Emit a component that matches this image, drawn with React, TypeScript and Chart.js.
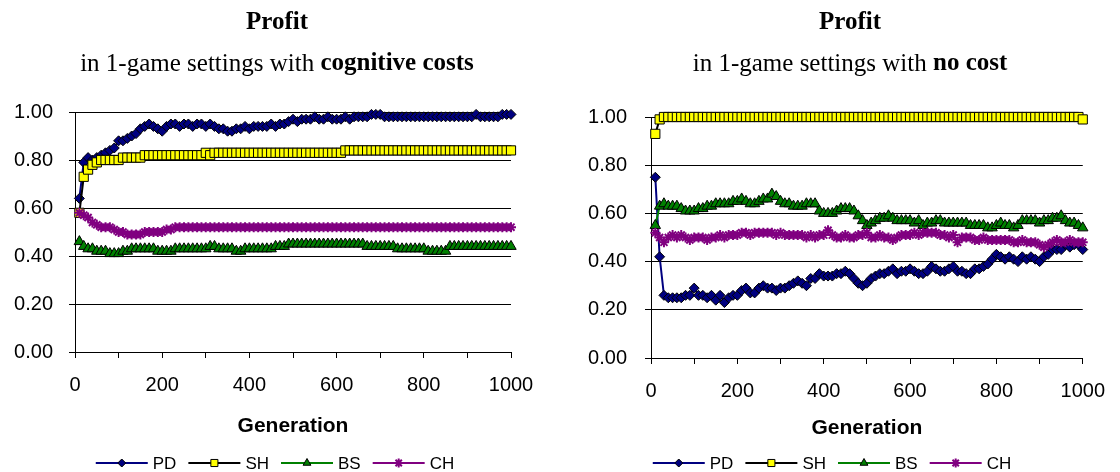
import React, { useEffect, useRef } from "react";
import { Chart, registerables } from "chart.js";
import { drawPoint } from "chart.js/helpers";

Chart.register(...registerables);

// ---------- data ----------
const generations: number[] = Array.from({ length: 100 }, (_, i) => (i + 1) * 10);
const seriesNames = ["PD", "SH", "BS", "CH"];
const xTickValues = [0, 100, 200, 300, 400, 500, 600, 700, 800, 900, 1000];
const xTickLabels = [0, 200, 400, 600, 800, 1000];

// 1-game settings with cognitive costs
const costPD = [
  0.64, 0.79, 0.81, 0.80, 0.81, 0.82, 0.83, 0.84, 0.85, 0.88,
  0.88, 0.89, 0.90, 0.91, 0.93, 0.94, 0.95, 0.94, 0.93, 0.92,
  0.94, 0.95, 0.95, 0.94, 0.95, 0.95, 0.94, 0.95, 0.95, 0.94,
  0.95, 0.94, 0.93, 0.93, 0.92, 0.92, 0.93, 0.93, 0.94, 0.93,
  0.94, 0.94, 0.94, 0.94, 0.95, 0.94, 0.95, 0.95, 0.96, 0.97,
  0.96, 0.97, 0.97, 0.97, 0.98, 0.97, 0.97, 0.98, 0.97, 0.97,
  0.97, 0.98, 0.97, 0.98, 0.98, 0.98, 0.98, 0.99, 0.99, 0.99,
  0.98, 0.98, 0.98, 0.98, 0.98, 0.98, 0.98, 0.98, 0.98, 0.98,
  0.98, 0.98, 0.98, 0.98, 0.98, 0.98, 0.98, 0.98, 0.98, 0.98,
  0.98, 0.99, 0.98, 0.98, 0.98, 0.98, 0.98, 0.99, 0.99, 0.99,
];
const costSH = [
  0.58, 0.73, 0.76, 0.78, 0.79, 0.80, 0.80, 0.80, 0.80, 0.80,
  0.81, 0.81, 0.81, 0.81, 0.81, 0.82, 0.82, 0.82, 0.82, 0.82,
  0.82, 0.82, 0.82, 0.82, 0.82, 0.82, 0.82, 0.82, 0.82, 0.83,
  0.82, 0.83, 0.83, 0.83, 0.83, 0.83, 0.83, 0.83, 0.83, 0.83,
  0.83, 0.83, 0.83, 0.83, 0.83, 0.83, 0.83, 0.83, 0.83, 0.83,
  0.83, 0.83, 0.83, 0.83, 0.83, 0.83, 0.83, 0.83, 0.83, 0.83,
  0.83, 0.84, 0.84, 0.84, 0.84, 0.84, 0.84, 0.84, 0.84, 0.84,
  0.84, 0.84, 0.84, 0.84, 0.84, 0.84, 0.84, 0.84, 0.84, 0.84,
  0.84, 0.84, 0.84, 0.84, 0.84, 0.84, 0.84, 0.84, 0.84, 0.84,
  0.84, 0.84, 0.84, 0.84, 0.84, 0.84, 0.84, 0.84, 0.84, 0.84,
];
const costBS = [
  0.46, 0.44, 0.43, 0.43, 0.42, 0.42, 0.42, 0.41, 0.41, 0.41,
  0.42, 0.42, 0.43, 0.43, 0.43, 0.43, 0.43, 0.43, 0.42, 0.42,
  0.42, 0.42, 0.43, 0.43, 0.43, 0.43, 0.43, 0.43, 0.43, 0.43,
  0.44, 0.44, 0.43, 0.43, 0.43, 0.43, 0.42, 0.42, 0.43, 0.43,
  0.43, 0.43, 0.43, 0.43, 0.43, 0.44, 0.44, 0.44, 0.45, 0.45,
  0.45, 0.45, 0.45, 0.45, 0.45, 0.45, 0.45, 0.45, 0.45, 0.45,
  0.45, 0.45, 0.45, 0.45, 0.45, 0.45, 0.44, 0.44, 0.44, 0.44,
  0.44, 0.44, 0.44, 0.43, 0.43, 0.43, 0.43, 0.43, 0.43, 0.43,
  0.42, 0.42, 0.42, 0.42, 0.42, 0.44, 0.44, 0.44, 0.44, 0.44,
  0.44, 0.44, 0.44, 0.44, 0.44, 0.44, 0.44, 0.44, 0.44, 0.44,
];
const costCH = [
  0.58, 0.57, 0.56, 0.54, 0.53, 0.52, 0.52, 0.52, 0.51, 0.50,
  0.50, 0.49, 0.49, 0.49, 0.49, 0.50, 0.50, 0.50, 0.50, 0.50,
  0.51, 0.51, 0.52, 0.52, 0.52, 0.52, 0.52, 0.52, 0.52, 0.52,
  0.52, 0.52, 0.52, 0.52, 0.52, 0.52, 0.52, 0.52, 0.52, 0.52,
  0.52, 0.52, 0.52, 0.52, 0.52, 0.52, 0.52, 0.52, 0.52, 0.52,
  0.52, 0.52, 0.52, 0.52, 0.52, 0.52, 0.52, 0.52, 0.52, 0.52,
  0.52, 0.52, 0.52, 0.52, 0.52, 0.52, 0.52, 0.52, 0.52, 0.52,
  0.52, 0.52, 0.52, 0.52, 0.52, 0.52, 0.52, 0.52, 0.52, 0.52,
  0.52, 0.52, 0.52, 0.52, 0.52, 0.52, 0.52, 0.52, 0.52, 0.52,
  0.52, 0.52, 0.52, 0.52, 0.52, 0.52, 0.52, 0.52, 0.52, 0.52,
];

// 1-game settings with no cost
const freePD = [
  0.75, 0.42, 0.26, 0.25, 0.25, 0.25, 0.25, 0.26, 0.26, 0.29,
  0.26, 0.26, 0.25, 0.26, 0.24, 0.26, 0.23, 0.25, 0.26, 0.26,
  0.28, 0.29, 0.27, 0.27, 0.29, 0.30, 0.29, 0.29, 0.28, 0.29,
  0.29, 0.30, 0.31, 0.32, 0.31, 0.30, 0.33, 0.33, 0.35, 0.34,
  0.34, 0.34, 0.35, 0.35, 0.36, 0.35, 0.33, 0.31, 0.30, 0.31,
  0.33, 0.34, 0.35, 0.35, 0.36, 0.37, 0.35, 0.36, 0.36, 0.37,
  0.36, 0.35, 0.35, 0.36, 0.38, 0.37, 0.36, 0.36, 0.37, 0.38,
  0.36, 0.36, 0.35, 0.35, 0.37, 0.37, 0.38, 0.39, 0.41, 0.43,
  0.42, 0.41, 0.42, 0.41, 0.40, 0.42, 0.41, 0.42, 0.41, 0.40,
  0.42, 0.43, 0.45, 0.45, 0.45, 0.47, 0.46, 0.47, 0.47, 0.45,
];
const freeSH = [
  0.93, 0.99, 1.00, 1.00, 1.00, 1.00, 1.00, 1.00, 1.00, 1.00,
  1.00, 1.00, 1.00, 1.00, 1.00, 1.00, 1.00, 1.00, 1.00, 1.00,
  1.00, 1.00, 1.00, 1.00, 1.00, 1.00, 1.00, 1.00, 1.00, 1.00,
  1.00, 1.00, 1.00, 1.00, 1.00, 1.00, 1.00, 1.00, 1.00, 1.00,
  1.00, 1.00, 1.00, 1.00, 1.00, 1.00, 1.00, 1.00, 1.00, 1.00,
  1.00, 1.00, 1.00, 1.00, 1.00, 1.00, 1.00, 1.00, 1.00, 1.00,
  1.00, 1.00, 1.00, 1.00, 1.00, 1.00, 1.00, 1.00, 1.00, 1.00,
  1.00, 1.00, 1.00, 1.00, 1.00, 1.00, 1.00, 1.00, 1.00, 1.00,
  1.00, 1.00, 1.00, 1.00, 1.00, 1.00, 1.00, 1.00, 1.00, 1.00,
  1.00, 1.00, 1.00, 1.00, 1.00, 1.00, 1.00, 1.00, 1.00, 0.99,
];
const freeBS = [
  0.55, 0.63, 0.64, 0.63, 0.63, 0.63, 0.62, 0.61, 0.61, 0.61,
  0.62, 0.62, 0.63, 0.63, 0.64, 0.64, 0.64, 0.64, 0.65, 0.65,
  0.66, 0.65, 0.64, 0.64, 0.65, 0.66, 0.66, 0.68, 0.67, 0.65,
  0.64, 0.64, 0.63, 0.63, 0.63, 0.64, 0.64, 0.64, 0.61, 0.60,
  0.60, 0.60, 0.61, 0.62, 0.62, 0.62, 0.61, 0.59, 0.57, 0.55,
  0.56, 0.57, 0.58, 0.58, 0.59, 0.58, 0.57, 0.57, 0.57, 0.57,
  0.56, 0.57, 0.55, 0.56, 0.56, 0.57, 0.57, 0.56, 0.56, 0.56,
  0.56, 0.56, 0.56, 0.55, 0.55, 0.55, 0.55, 0.54, 0.54, 0.55,
  0.56, 0.55, 0.55, 0.54, 0.55, 0.57, 0.57, 0.57, 0.57, 0.56,
  0.57, 0.57, 0.58, 0.58, 0.59, 0.57, 0.56, 0.56, 0.55, 0.54,
];
const freeCH = [
  0.52, 0.50, 0.48, 0.50, 0.51, 0.50, 0.51, 0.50, 0.49, 0.50,
  0.50, 0.50, 0.49, 0.50, 0.50, 0.51, 0.50, 0.51, 0.51, 0.51,
  0.52, 0.52, 0.51, 0.52, 0.52, 0.52, 0.52, 0.52, 0.51, 0.52,
  0.51, 0.51, 0.51, 0.51, 0.51, 0.50, 0.51, 0.50, 0.51, 0.51,
  0.53, 0.51, 0.50, 0.50, 0.51, 0.50, 0.50, 0.51, 0.51, 0.52,
  0.50, 0.50, 0.51, 0.50, 0.50, 0.49, 0.50, 0.51, 0.51, 0.51,
  0.52, 0.51, 0.52, 0.52, 0.52, 0.52, 0.51, 0.51, 0.50, 0.51,
  0.48, 0.50, 0.50, 0.50, 0.49, 0.49, 0.50, 0.49, 0.49, 0.49,
  0.49, 0.49, 0.49, 0.48, 0.48, 0.49, 0.48, 0.48, 0.48, 0.47,
  0.46, 0.47, 0.48, 0.49, 0.48, 0.48, 0.49, 0.48, 0.48, 0.48,
];

// ---------- styles ----------
const SANS = "'Liberation Sans', Arial, sans-serif";
const SERIF = "'Liberation Serif', 'Times New Roman', serif";

const STYLES = [
  { line: "#000080", fill: "#000080", border: "#000000", pointStyle: "rectRot", radius: 5, bw: 1, legendR: 4 },
  { line: "#000000", fill: "#FFFF00", border: "#000000", pointStyle: "rect", radius: 6.5, bw: 1, legendR: 5 },
  { line: "#008000", fill: "#008000", border: "#000000", pointStyle: "triangle", radius: 6, bw: 1, legendR: 4.5 },
  { line: "#800080", fill: "#800080", border: "#800080", pointStyle: "star", radius: 5, bw: 2, legendR: 4.5 },
];

type PanelCfg = {
  title: string;
  subRegular: string;
  subBold: string;
  values: number[][];
  yAxisWidth: number;
  yTickPad: number;
  pad: { top: number; right: number; bottom: number; left: number };
  xAxisHeight: number;
  titleX: number;
  legendX: number;
};

const PANELS: PanelCfg[] = [
  {
    title: "Profit",
    subRegular: "in 1-game settings with ",
    subBold: "cognitive costs",
    values: [costPD, costSH, costBS, costCH],
    yAxisWidth: 75,
    yTickPad: 16,
    pad: { top: 112, right: 49, bottom: 33, left: 0 },
    xAxisHeight: 87,
    titleX: 277,
    legendX: 275,
  },
  {
    title: "Profit",
    subRegular: "in 1-game settings with ",
    subBold: "no cost",
    values: [freePD, freeSH, freeBS, freeCH],
    yAxisWidth: 91,
    yTickPad: 18,
    pad: { top: 117, right: 32, bottom: 31, left: 0 },
    xAxisHeight: 83,
    titleX: 290,
    legendX: 272,
  },
];

const TITLE_SIZE = 25;

function decorPlugin(cfg: PanelCfg) {
  return {
    id: "panelDecor",
    afterDraw(chart: any) {
      const ctx: CanvasRenderingContext2D = chart.ctx;
      ctx.save();
      // titles
      ctx.fillStyle = "#000";
      ctx.textBaseline = "middle";
      ctx.textAlign = "center";
      ctx.font = `bold ${TITLE_SIZE}px ${SERIF}`;
      ctx.fillText(cfg.title, cfg.titleX, 23);
      ctx.font = `${TITLE_SIZE}px ${SERIF}`;
      const wReg = ctx.measureText(cfg.subRegular).width;
      ctx.font = `bold ${TITLE_SIZE}px ${SERIF}`;
      const wBold = ctx.measureText(cfg.subBold).width;
      const sx = cfg.titleX - (wReg + wBold) / 2;
      ctx.textAlign = "left";
      ctx.font = `${TITLE_SIZE}px ${SERIF}`;
      ctx.fillText(cfg.subRegular, sx, 64);
      ctx.font = `bold ${TITLE_SIZE}px ${SERIF}`;
      ctx.fillText(cfg.subBold, sx + wReg, 64);

      // legend
      const lineLen = 52;
      const gap = 5;
      const itemGap = 12;
      const ly = 463;
      ctx.font = `17px ${SANS}`;
      const widths = seriesNames.map((n) => ctx.measureText(n).width);
      const total =
        widths.reduce((a, b) => a + b, 0) + seriesNames.length * (lineLen + gap) + itemGap * (seriesNames.length - 1);
      let x = cfg.legendX - total / 2;
      seriesNames.forEach((name, i) => {
        const st = STYLES[i];
        ctx.strokeStyle = st.line;
        ctx.lineWidth = 2;
        ctx.beginPath();
        ctx.moveTo(x, ly);
        ctx.lineTo(x + lineLen, ly);
        ctx.stroke();
        ctx.fillStyle = st.fill;
        ctx.strokeStyle = st.border;
        ctx.lineWidth = st.bw;
        drawPoint(ctx, { pointStyle: st.pointStyle as any, rotation: 0, radius: st.legendR, borderWidth: st.bw }, x + lineLen / 2, ly);
        ctx.fillStyle = "#000";
        ctx.textAlign = "left";
        ctx.textBaseline = "middle";
        ctx.font = `17px ${SANS}`;
        ctx.fillText(name, x + lineLen + gap, ly + 1);
        x += lineLen + gap + widths[i] + itemGap;
      });
      ctx.restore();
    },
  };
}

function Panel({ cfg, left }: { cfg: PanelCfg; left: number }) {
  const ref = useRef<HTMLCanvasElement | null>(null);
  useEffect(() => {
    if (!ref.current) return;
    const datasets = seriesNames.map((name, i) => ({
      label: name,
      data: generations.map((g, j) => ({ x: g, y: cfg.values[i][j] })),
      borderColor: STYLES[i].line,
      backgroundColor: STYLES[i].fill,
      borderWidth: 2,
      pointStyle: STYLES[i].pointStyle,
      pointRadius: STYLES[i].radius,
      pointBackgroundColor: STYLES[i].fill,
      pointBorderColor: STYLES[i].border,
      pointBorderWidth: STYLES[i].bw,
      tension: 0,
      fill: false,
      clip: false as any,
      order: seriesNames.length - i,
    }));
    const chart = new Chart(ref.current, {
      type: "line",
      data: { datasets },
      options: {
        animation: false,
        responsive: false,
        devicePixelRatio: 1,
        events: [],
        layout: { padding: cfg.pad },
        plugins: {
          legend: { display: false },
          tooltip: { enabled: false },
          title: { display: false },
        },
        scales: {
          x: {
            type: "linear",
            min: 0,
            max: 1000,
            afterFit: (s: any) => {
              s.height = cfg.xAxisHeight;
            },
            afterBuildTicks: (s: any) => {
              s.ticks = xTickValues.map((v) => ({ value: v }));
            },
            ticks: {
              autoSkip: false,
              maxRotation: 0,
              padding: 15,
              color: "#000",
              font: { family: SANS, size: 20 },
              callback: (v: any) => (xTickLabels.includes(Number(v)) ? String(v) : ""),
            },
            grid: {
              display: true,
              drawOnChartArea: false,
              drawTicks: true,
              tickLength: 6,
              color: "#000",
              lineWidth: 1,
            },
            border: { display: true, color: "#000", width: 1 },
            title: {
              display: true,
              text: "Generation",
              color: "#000",
              font: { family: SANS, size: 21, weight: "bold" },
              padding: 0,
            },
          },
          y: {
            type: "linear",
            min: 0,
            max: 1,
            afterFit: (s: any) => {
              s.width = cfg.yAxisWidth;
            },
            ticks: {
              stepSize: 0.2,
              padding: cfg.yTickPad,
              color: "#000",
              font: { family: SANS, size: 20 },
              callback: (v: any) => Number(v).toFixed(2),
            },
            grid: {
              display: true,
              drawOnChartArea: true,
              drawTicks: true,
              tickLength: 6,
              color: "#000",
              lineWidth: 1,
            },
            border: { display: true, color: "#000", width: 1 },
          },
        },
      } as any,
      plugins: [decorPlugin(cfg)],
    });
    return () => chart.destroy();
  }, [cfg]);
  return (
    <div style={{ position: "absolute", left, top: 0, width: 560, height: 472 }}>
      <canvas ref={ref} width={560} height={472} style={{ display: "block", width: 560, height: 472 }} />
    </div>
  );
}

export default function App() {
  useEffect(() => {
    document.body.style.margin = "0";
    document.body.style.background = "#fff";
  }, []);
  return (
    <div style={{ position: "absolute", left: 0, top: 0, width: 1120, height: 472, background: "#fff", overflow: "hidden" }}>
      <Panel cfg={PANELS[0]} left={0} />
      <Panel cfg={PANELS[1]} left={560} />
    </div>
  );
}
